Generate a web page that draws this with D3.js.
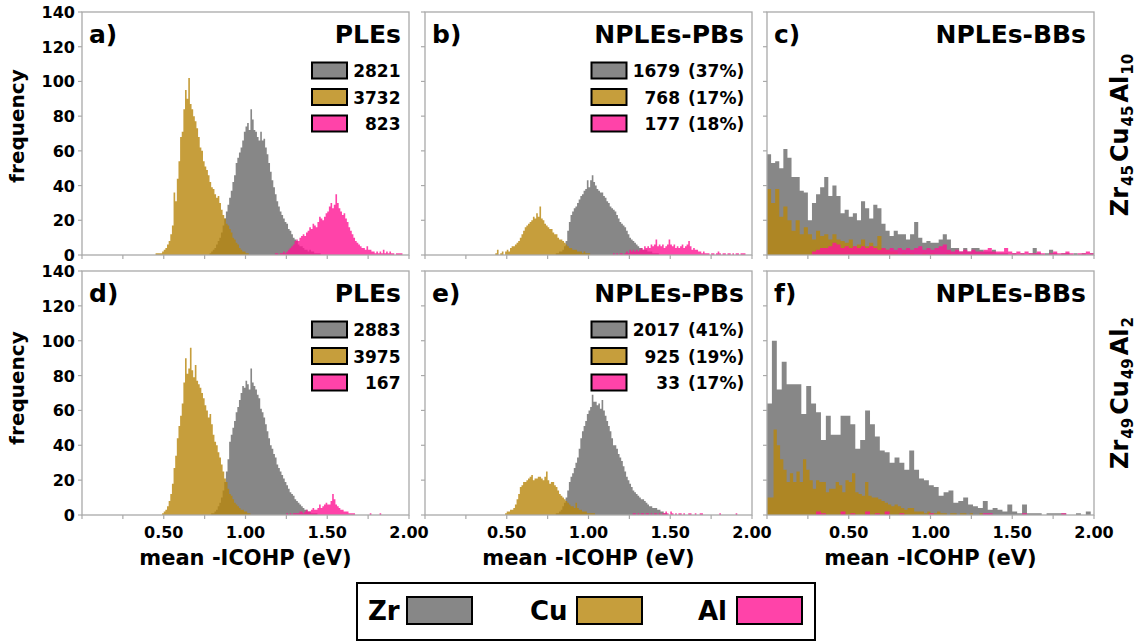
<!DOCTYPE html>
<html><head><meta charset="utf-8">
<script src="https://cdn.jsdelivr.net/npm/d3@7"></script>
<style>
html,body{margin:0;padding:0;background:#fff;}
svg{display:block;font-family:"DejaVu Sans",sans-serif;font-weight:bold;}
</style></head><body>
<svg id="chart" width="1143" height="642"></svg>
<script>
// ---------- data ----------
const elements = ["Zr", "Cu", "Al"];
const panelLetters = ["a)", "b)", "c)", "d)", "e)", "f)"];
const panelTitles = ["PLEs", "NPLEs-PBs", "NPLEs-BBs", "PLEs", "NPLEs-PBs", "NPLEs-BBs"];
const alloyLabels = [["Zr", "45", "Cu", "45", "Al", "10"], ["Zr", "49", "Cu", "49", "Al", "2"]];
const yTicks = [0, 20, 40, 60, 80, 100, 120, 140];
const xTicks = [0, 0.25, 0.5, 0.75, 1.0, 1.25, 1.5, 1.75, 2.0];
const xTickLabelValues = [0.5, 1.0, 1.5, 2.0];
const countsA = [2821, 3732, 823];
const countsB = [1679, 768, 177];
const pctB = ["(37%)", "(17%)", "(18%)"];
const countsD = [2883, 3975, 167];
const countsE = [2017, 925, 33];
const pctE = ["(41%)", "(19%)", "(17%)"];

// histogram bins: [start of first bin, bin width]
const zrA_bins = [0.78, 0.01];
const zrA = [1,2,3,4,6,8,10,13,17,21,25,29,33,37,42,46,53,56,59,62,66,71,74,76,72,84,78,72,71,68,66,71,66,67,62,58,53,48,43,39,35,31,28,25,23,21,19,18,15,14,12,10,9,8,6,5,5,4,3,3,2,3,2,2,1,1,1,1];
const cuA_bins = [0.45, 0.01];
const cuA = [1,1,1,1,2,3,4,6,8,12,17,36,31,44,54,68,71,84,95,90,102,87,84,80,77,73,68,62,60,54,51,49,46,42,39,38,35,33,34,30,26,23,21,18,17,15,13,10,9,7,6,4,3,2,2,1,1];
const alA_bins = [1.18, 0.01];
const alA = [1,1,0,1,1,2,1,2,3,4,5,6,8,9,8,10,11,12,11,13,14,16,15,18,17,16,19,22,21,20,22,24,25,28,30,27,29,35,30,27,25,23,24,21,19,16,14,12,10,8,7,6,5,4,4,3,5,3,3,2,2,1,2,1,2,1,3,1,2,1,2,1,1,0,1,1,1,1];

const zrB_bins = [0.80, 0.01];
const zrB = [1,1,2,2,3,5,8,14,19,23,25,27,28,30,32,34,35,37,38,43,39,43,46,42,40,38,37,36,36,34,33,31,30,28,27,26,25,23,21,19,18,17,16,14,12,10,9,8,7,6,5,4,4,3,3,3,2,2,2,1,1,1,1];
const cuB_bins = [0.43, 0.01];
const cuB = [1,3,0,1,2,0,2,3,2,4,5,5,6,7,8,10,12,14,16,17,18,19,20,22,21,24,22,28,21,20,18,17,16,15,15,13,12,12,10,9,9,8,7,6,5,4,4,3,3,3,2,2,2,1,2,1,1,1];
const alB_bins = [1.15, 0.01];
const alB = [1,0,1,0,1,1,0,1,2,1,3,2,3,2,3,2,3,4,3,5,4,5,4,6,5,6,9,5,6,5,6,4,5,6,9,6,5,6,4,5,4,5,6,4,5,6,8,5,3,4,3,3,2,2,1,2,1,1,1,0,1,1,0,1,2,1,0,1,1,0,1,1,0,1,0,1,1,0,1,1,1];

const zrC_bins = [0, 0.025];
const zrC = [58,53,54,50,61,56,45,45,37,36,20,30,35,39,45,34,40,34,24,26,22,24,20,31,27,21,29,27,18,14,11,14,12,12,9,12,19,10,7,8,7,7,9,12,9,4,4,2,4,2,4,4,3,2,2,3,1,1,1,0,1,0,1,0,1,4,1,0,1,3,1,0,1,1,0,1,0,1,0,1];
const cuC_bins = [0, 0.025];
const cuC = [38,30,38,22,28,20,14,20,12,16,12,9,14,11,12,9,12,9,8,7,9,5,6,9,5,7,5,11,4,3,2,2,0,1,0,1,0,0,1,0,1,0,0,0,1];
const alC_bins = [0.275, 0.025];
const alC = [2,3,4,4,5,7,6,4,5,4,5,4,5,4,5,4,3,4,3,4,3,4,3,4,3,4,5,3,4,3,4,5,6,3,2,3,2,3,2,3,2,2,3,4,2,2,2,4,2,1,2,1,2,1,1,2,1,0,1,2,1,1,2,1,0,1,1,2,1];

const zrD_bins = [0.79, 0.01];
const zrD = [1,1,2,3,5,7,10,14,19,25,32,42,46,50,54,59,62,66,70,74,73,77,75,72,84,76,74,72,69,67,61,59,56,52,48,44,40,38,35,33,29,27,25,23,21,19,17,15,13,12,11,9,8,7,6,5,4,3,3,2,2,1,1,1,1];
const cuD_bins = [0.49, 0.01];
const cuD = [1,2,3,5,8,12,18,27,34,44,51,57,64,76,90,81,84,96,83,79,86,77,75,73,70,67,63,60,56,58,52,46,42,40,36,33,29,25,21,19,15,12,11,9,7,6,5,4,3,3,2,2,1,1];
const alD_bins = [1.25, 0.01];
const alD = [1,0,1,0,1,1,1,1,2,2,1,2,3,2,2,3,4,3,3,4,6,4,5,6,7,6,6,8,12,9,6,5,4,3,3,2,2,2,1,1,1,1,0,0,0,0,0,0,0,0,0,1,0,0,0,0,0,1];

const zrE_bins = [0.80, 0.01];
const zrE = [1,1,2,3,5,7,10,14,19,22,24,27,30,33,38,44,48,51,54,58,60,62,69,65,65,63,64,61,66,60,57,54,51,48,44,40,40,38,35,33,31,28,25,22,20,18,16,14,13,12,11,10,9,9,8,7,6,5,5,4,4,4,3,3,2,2,1,1];
const cuE_bins = [0.49, 0.01];
const cuE = [1,2,2,3,3,4,6,9,12,16,17,19,19,20,21,22,23,20,21,21,22,22,21,20,22,25,20,18,19,19,17,16,14,12,11,10,9,8,7,6,5,5,4,7,4,3,3,2,2,2,1,1,1,1,1];
const alE_bins = [1.27, 0.01];
const alE = [1,1,0,1,0,1,1,0,1,1,0,1,0,1,1,0,1,0,1,1,2,1,0,2,1,0,1,0,1,1,0,1,0,0,1,1,0,0,1,0,0,1,1,0,0,0,0,0,0,0,0,0,0,1,0,0,0,0,0,0,0,0,0,1];

const zrF_bins = [0, 0.03];
const zrF = [64,100,72,88,75,75,75,58,74,64,59,43,57,46,46,57,57,52,38,43,60,52,45,37,36,30,33,30,26,37,26,21,20,17,16,11,13,14,7,8,10,6,5,4,8,3,4,3,2,6,2,1,6,1,1,1,0,1,1,1,1,0,0,1,0,2,0];
const cuF_bins = [0, 0.02];
const cuF = [10,10,49,40,32,26,19,24,19,25,19,32,26,20,15,20,19,19,13,15,15,19,17,13,20,19,24,13,12,11,19,11,10,10,9,8,7,6,5,6,5,4,3,4,4,2,2,2,1,2,1,1,2,1,1,0,1,1,0,1,1,0,1,0,0,1];
const alF_bins = [0.30, 0.03];
const alF = [2,1,0,0,0,2,0,1,0,0,2,0,1,0,2,0,0,1,0,0,0,0,0,1,0,0,0,0,0,0,0,0,0,0,1,1,0,0,0,0,0,0,1,0,0,0,0,0,0,0,1];

// ---------- layout / style ----------
const colors = {Zr: "#696969", Cu: "#b8860b", Al: "#ff1493"};
const alpha = 0.8;
const frameColor = "#a9a9a9";
const colX = [82, 425, 767];
const rowTop = [12, 271];
const rowBottom = [255, 515];
const panelW = 327;

const panels = [
  {series: [[zrA, zrA_bins], [cuA, cuA_bins], [alA, alA_bins]], counts: countsA, pct: null},
  {series: [[zrB, zrB_bins], [cuB, cuB_bins], [alB, alB_bins]], counts: countsB, pct: pctB},
  {series: [[zrC, zrC_bins], [cuC, cuC_bins], [alC, alC_bins]], counts: null, pct: null},
  {series: [[zrD, zrD_bins], [cuD, cuD_bins], [alD, alD_bins]], counts: countsD, pct: null},
  {series: [[zrE, zrE_bins], [cuE, cuE_bins], [alE, alE_bins]], counts: countsE, pct: pctE},
  {series: [[zrF, zrF_bins], [cuF, cuF_bins], [alF, alF_bins]], counts: null, pct: null}
];

const svg = d3.select("#chart");
const defs = svg.append("defs");
const fmt = d3.format(".2f");

panels.forEach((p, idx) => {
  const r = Math.floor(idx / 3), c = idx % 3;
  const x0 = colX[c], top = rowTop[r], bottom = rowBottom[r];
  const x = d3.scaleLinear().domain([0, 2]).range([x0, x0 + panelW]);
  const y = d3.scaleLinear().domain([0, 140]).range([bottom, top]);
  const g = svg.append("g");

  const clipId = "clip" + idx;
  defs.append("clipPath").attr("id", clipId).append("rect")
    .attr("x", x0).attr("y", top).attr("width", panelW).attr("height", bottom - top);

  const line = d3.line().x(d => x(d[0])).y(d => y(d[1]));
  const hg = g.append("g").attr("clip-path", `url(#${clipId})`);
  p.series.forEach((s, k) => {
    const vals = s[0], start = s[1][0], bw = s[1][1];
    const pts = [[start, 0]];
    vals.forEach((v, i) => { pts.push([start + i * bw, v]); pts.push([start + (i + 1) * bw, v]); });
    pts.push([start + vals.length * bw, 0]);
    hg.append("path").attr("d", line(pts) + "Z")
      .attr("fill", colors[elements[k]]).attr("fill-opacity", alpha).attr("stroke", "none");
  });

  // frame
  g.append("rect").attr("x", x0).attr("y", top).attr("width", panelW).attr("height", bottom - top)
    .attr("fill", "none").attr("stroke", frameColor).attr("stroke-width", 1.3);

  // ticks
  g.selectAll(".xt").data(xTicks).enter().append("line")
    .attr("x1", d => x(d)).attr("x2", d => x(d)).attr("y1", bottom).attr("y2", bottom + 4)
    .attr("stroke", frameColor).attr("stroke-width", 1.2);
  g.selectAll(".yt").data(yTicks).enter().append("line")
    .attr("x1", x0 - 4).attr("x2", x0).attr("y1", d => y(d)).attr("y2", d => y(d))
    .attr("stroke", frameColor).attr("stroke-width", 1.2);

  if (c === 0) {
    g.selectAll(".yl").data(yTicks).enter().append("text")
      .attr("x", x0 - 7).attr("y", d => y(d) + 6).attr("text-anchor", "end")
      .attr("font-size", 16).text(d => d);
    g.append("text").attr("transform", `translate(24,${r === 0 ? 126 : 388}) rotate(-90)`)
      .attr("text-anchor", "middle").attr("font-size", 20).text("frequency");
  }
  if (r === 1) {
    g.selectAll(".xl").data(xTickLabelValues).enter().append("text")
      .attr("x", d => x(d)).attr("y", 538).attr("text-anchor", "middle")
      .attr("font-size", 16).text(d => fmt(d));
    g.append("text").attr("x", x(1)).attr("y", 565).attr("text-anchor", "middle")
      .attr("font-size", 21).text("mean -ICOHP (eV)");
  }

  // panel letter and title
  g.append("text").attr("x", x0 + 7).attr("y", top + 31).attr("font-size", 25).text(panelLetters[idx]);
  g.append("text").attr("x", x0 + 319).attr("y", top + 31).attr("text-anchor", "end")
    .attr("font-size", 25).text(panelTitles[idx]);

  // in-panel legend
  if (p.counts) {
    const hasPct = !!p.pct;
    const swOff = hasPct ? 166.5 : 230;
    const numEnd = hasPct ? 255 : 318.5;
    p.counts.forEach((n, i) => {
      const cy = top + 58.5 + i * 26.5;
      g.append("rect").attr("x", x0 + swOff).attr("y", cy - 8).attr("width", 35).attr("height", 16)
        .attr("fill", colors[elements[i]]).attr("fill-opacity", alpha)
        .attr("stroke", "#000").attr("stroke-width", 2);
      g.append("text").attr("x", x0 + numEnd).attr("y", cy + 6.5).attr("text-anchor", "end")
        .attr("font-size", 17).text(n);
      if (hasPct) {
        g.append("text").attr("x", x0 + 263).attr("y", cy + 6.5).attr("font-size", 17).text(p.pct[i]);
      }
    });
  }
});

// alloy labels on the right
alloyLabels.forEach((parts, r) => {
  const t = svg.append("text").attr("transform", `translate(1128,${r === 0 ? 135 : 393}) rotate(-90)`)
    .attr("text-anchor", "middle").attr("font-size", 24);
  parts.forEach((s, i) => {
    const sub = i % 2 === 1;
    const ts = t.append("tspan").text(s);
    if (sub) ts.attr("font-size", 15).attr("dy", 5).attr("dx", 1);
    else if (i > 0) ts.attr("dy", -5).attr("dx", 3);
  });
});

// bottom legend
const lg = svg.append("g");
lg.append("rect").attr("x", 357).attr("y", 583).attr("width", 458).attr("height", 57)
  .attr("fill", "#fff").attr("stroke", "#000").attr("stroke-width", 2);
const lgLabelX = [368, 530, 698];
const lgSwX = [407, 577, 737];
elements.forEach((e, i) => {
  lg.append("text").attr("x", lgLabelX[i]).attr("y", 620).attr("font-size", 26).text(e);
  lg.append("rect").attr("x", lgSwX[i]).attr("y", 597).attr("width", 65).attr("height", 27)
    .attr("fill", colors[e]).attr("fill-opacity", alpha).attr("stroke", "#000").attr("stroke-width", 2);
});
</script>
</body></html>
